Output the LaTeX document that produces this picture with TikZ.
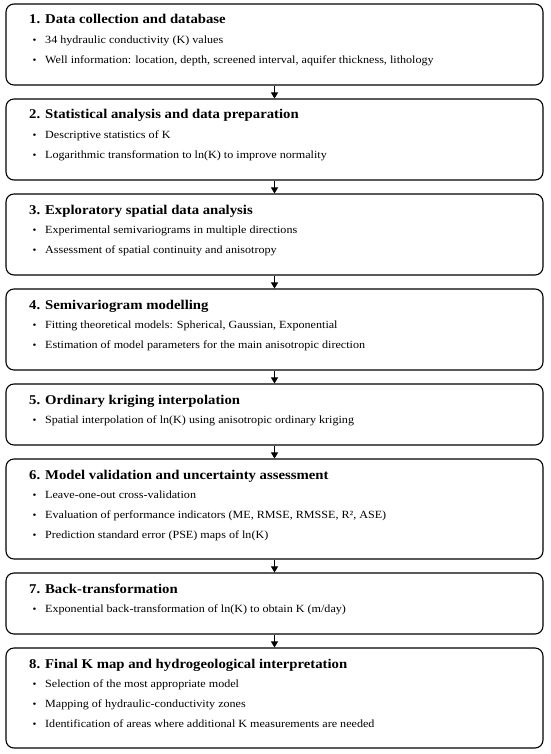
\documentclass[tikz,border=0pt]{standalone}
\usepackage{fontspec}
\setmainfont[FakeStretch=1.1]{Liberation Serif}
\usetikzlibrary{arrows.meta}
\newcommand{\itmtext}[1]{\makebox[12.5pt][l]{\raisebox{0.2pt}{\fontsize{10}{10}\selectfont •}}#1}
\tikzset{
  box/.style={draw=black, line width=1.1pt, rounded corners=8pt, minimum width=537pt, inner sep=0pt},
  ttl/.style={anchor=base west, inner sep=0pt, font=\fontsize{13.4}{16}\selectfont\bfseries},
  itm/.style={anchor=base west, inner sep=0pt, font=\fontsize{11}{13}\selectfont},
  arr/.style={line width=0.9pt, -{Triangle[width=7pt,length=6pt]}, shorten <=0.5pt}
}
\begin{document}
\begin{tikzpicture}[x=1pt,y=-1pt]
\useasboundingbox (0,0) rectangle (550,754);
% boxes
\node[box, minimum height=81pt] (b1) at (274.5,44.5) {};
\node[box, minimum height=81pt] (b2) at (274.5,139.5) {};
\node[box, minimum height=81pt] (b3) at (274.5,234.5) {};
\node[box, minimum height=81pt] (b4) at (274.5,329.5) {};
\node[box, minimum height=61pt] (b5) at (274.5,414.5) {};
\node[box, minimum height=100pt] (b6) at (274.5,509) {};
\node[box, minimum height=61pt] (b7) at (274.5,603.5) {};
\node[box, minimum height=100pt] (b8) at (274.5,698) {};
% texts box 1 (top 4)
\node[ttl] (t1) at (29,24) {1. Data collection and database};
\node[itm] (i1a) at (32.5,43.5) {\itmtext{34 hydraulic conductivity (K) values}};
\node[itm] (i1b) at (32.5,63.5) {\itmtext{Well information: location, depth, screened interval, aquifer thickness, lithology}};
% box 2 (top 99)
\node[ttl] (t2) at (29,119) {2. Statistical analysis and data preparation};
\node[itm] (i2a) at (32.5,138.5) {\itmtext{Descriptive statistics of K}};
\node[itm] (i2b) at (32.5,158.5) {\itmtext{Logarithmic transformation to ln(K) to improve normality}};
% box 3 (top 194)
\node[ttl] (t3) at (29,214) {3. Exploratory spatial data analysis};
\node[itm] (i3a) at (32.5,233.5) {\itmtext{Experimental semivariograms in multiple directions}};
\node[itm] (i3b) at (32.5,253.5) {\itmtext{Assessment of spatial continuity and anisotropy}};
% box 4 (top 289)
\node[ttl] (t4) at (29,309) {4. Semivariogram modelling};
\node[itm] (i4a) at (32.5,328.5) {\itmtext{Fitting theoretical models: Spherical, Gaussian, Exponential}};
\node[itm] (i4b) at (32.5,348.5) {\itmtext{Estimation of model parameters for the main anisotropic direction}};
% box 5 (top 384)
\node[ttl] (t5) at (29,404) {5. Ordinary kriging interpolation};
\node[itm] (i5a) at (32.5,423.5) {\itmtext{Spatial interpolation of ln(K) using anisotropic ordinary kriging}};
% box 6 (top 459)
\node[ttl] (t6) at (29,479) {6. Model validation and uncertainty assessment};
\node[itm] (i6a) at (32.5,498.5) {\itmtext{Leave-one-out cross-validation}};
\node[itm] (i6b) at (32.5,518.5) {\itmtext{Evaluation of performance indicators (ME, RMSE, RMSSE, R², ASE)}};
\node[itm] (i6c) at (32.5,538.5) {\itmtext{Prediction standard error (PSE) maps of ln(K)}};
% box 7 (top 573)
\node[ttl] (t7) at (29,593) {7. Back-transformation};
\node[itm] (i7a) at (32.5,612.5) {\itmtext{Exponential back-transformation of ln(K) to obtain K (m/day)}};
% box 8 (top 648)
\node[ttl] (t8) at (29,668) {8. Final K map and hydrogeological interpretation};
\node[itm] (i8a) at (32.5,687.5) {\itmtext{Selection of the most appropriate model}};
\node[itm] (i8b) at (32.5,707.5) {\itmtext{Mapping of hydraulic-conductivity zones}};
\node[itm] (i8c) at (32.5,727.5) {\itmtext{Identification of areas where additional K measurements are needed}};
% arrows
\draw[arr] (b1.south) -- (b2.north);
\draw[arr] (b2.south) -- (b3.north);
\draw[arr] (b3.south) -- (b4.north);
\draw[arr] (b4.south) -- (b5.north);
\draw[arr] (b5.south) -- (b6.north);
\draw[arr] (b6.south) -- (b7.north);
\draw[arr] (b7.south) -- (b8.north);
\end{tikzpicture}
\end{document}
